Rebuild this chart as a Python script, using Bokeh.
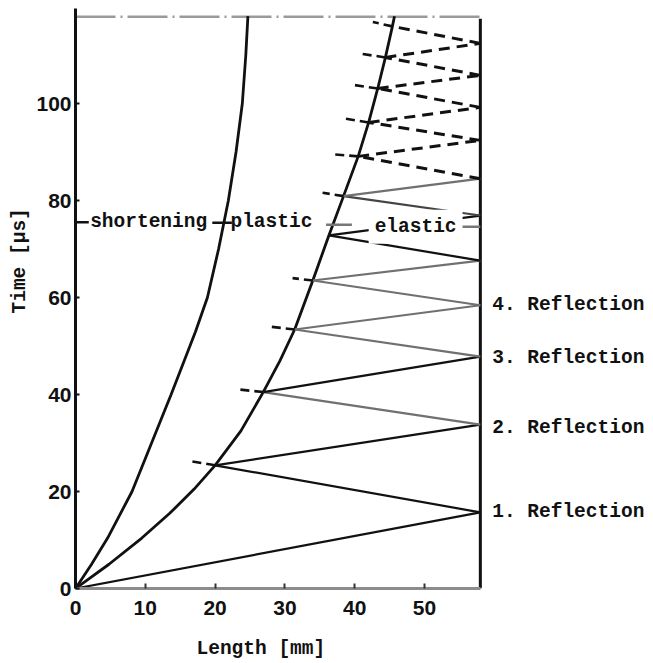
from bokeh.plotting import figure
from bokeh.models import Label, FixedTicker, ColumnDataSource, Range1d, Title
from bokeh.embed import file_html
from bokeh.resources import INLINE

# ---------------- data ----------------
rod_length = 58.0          # mm, position of the free end (wall)
top_time = 117.9           # us, dotted limit line

# left curve: end of shortening zone
shortening_x = [0, 2.3, 4.6, 8.1, 10.9, 13.7, 17.2, 18.9, 20.5, 21.9, 23.0, 23.9, 24.4, 24.7]
shortening_t = [0, 5.0, 10.4, 20.0, 30.0, 40.0, 53.0, 60.0, 70.0, 80.0, 90.0, 100.0, 110.0, 118.0]

# middle curve: plastic / elastic boundary
boundary_x = [0, 4.8, 9.5, 13.5, 17.0, 20.0, 23.7, 26.9, 29.3, 31.4, 34.0, 36.3, 38.4, 40.5, 42.0, 43.3, 44.4, 45.4, 45.7]
boundary_t = [0, 5.0, 10.4, 15.5, 20.5, 25.4, 32.5, 40.5, 47.0, 53.4, 63.5, 72.8, 80.9, 89.1, 96.1, 103.1, 109.5, 115.9, 118.0]

# elastic wave: reflections at the free end and hits on the boundary
wall_t = [15.7, 33.8, 47.8, 58.4, 67.6, 76.9, 84.5, 92.4, 99.2, 105.8, 112.4]
hit_x = [20.0, 26.9, 31.4, 34.0, 36.3, 38.4, 40.5, 42.0, 43.3, 44.4, 45.4]
hit_t = [25.4, 40.5, 53.4, 63.5, 72.8, 80.9, 89.1, 96.1, 103.1, 109.5, 115.9]

# dashed continuation of the incoming wave beyond each hit
ext_hit_index = [0, 1, 2, 3, 5, 6, 7, 8, 9, 10]
ext_x = [16.7, 23.6, 27.8, 31.1, 35.4, 37.1, 38.5, 39.5, 40.7, 42.6]
ext_t = [26.2, 41.0, 54.0, 64.0, 81.6, 89.5, 96.9, 103.9, 110.3, 116.8]

reflection_labels = ["1. Reflection", "2. Reflection", "3. Reflection", "4. Reflection"]
reflection_label_t = [15.7, 33.0, 47.6, 58.4]

zone_labels = ["shortening", "plastic", "elastic"]
zone_label_x = [2.1, 22.2, 42.0]
zone_label_t = [75.5, 75.5, 74.6]

x_ticks = [0, 10, 20, 30, 40, 50]
y_ticks = [0, 20, 40, 60, 80, 100]

x_title = "Length [mm]"
y_title = "Time [µs]"

# ---------------- styles ----------------
BLACK = "#111111"
GRAY = "#707070"
solid_colors = [BLACK, BLACK, BLACK, GRAY, BLACK, GRAY, GRAY, GRAY, GRAY, BLACK, BLACK, "#444444", GRAY]
n_solid = len(solid_colors)

MONO = "Liberation Mono"
SANS = "Liberation Sans"

# ---------------- figure ----------------
px_per_mm = 6.98
px_per_us = 4.85
W, H = 653, 663
left, right, top, bottom = 75, 5, 4, 75

p = figure(width=W, height=H, output_backend="svg", toolbar_location=None,
           x_range=Range1d(0, (W - left - right) / px_per_mm),
           y_range=Range1d(0, (H - top - bottom) / px_per_us),
           min_border_left=left, min_border_right=right,
           min_border_top=top, min_border_bottom=bottom)
p.outline_line_color = None
p.grid.visible = False
p.background_fill_color = "white"
p.border_fill_color = "white"

# axes
xa = p.xaxis[0]
xa.bounds = (0, rod_length)
xa.ticker = FixedTicker(ticks=x_ticks)
xa.minor_tick_line_color = None
xa.axis_line_color = "#8c8c8c"
xa.axis_line_width = 3
xa.major_tick_in = 5
xa.major_tick_out = 0
xa.major_tick_line_color = "#333333"
xa.major_tick_line_width = 2
xa.major_label_standoff = 12
xa.major_label_text_font = SANS
xa.major_label_text_font_style = "bold"
xa.major_label_text_font_size = "21px"
xa.major_label_text_color = BLACK
# blank spacer label to push the title further down
xa.axis_label = " "
xa.axis_label_text_font_size = "10px"
xa.axis_label_standoff = 4

ya = p.yaxis[0]
ya.bounds = (0, 119.5)
ya.ticker = FixedTicker(ticks=y_ticks)
ya.minor_tick_line_color = None
ya.axis_line_color = BLACK
ya.axis_line_width = 3
ya.major_tick_in = 4
ya.major_tick_out = 0
ya.major_tick_line_color = BLACK
ya.major_tick_line_width = 2
ya.major_label_standoff = 4
ya.major_label_text_font = SANS
ya.major_label_text_font_style = "bold"
ya.major_label_text_font_size = "21px"
ya.major_label_text_color = BLACK

# axis titles as offset titles (placed like the original, not centred)
p.add_layout(Title(text=x_title, align="left", offset=121, standoff=0, text_font=MONO,
                   text_font_style="bold", text_font_size="19.5px", text_color=BLACK),
             "below")
p.add_layout(Title(text=y_title, align="left", offset=275, standoff=6, text_font=MONO,
                   text_font_style="bold", text_font_size="19.5px", text_color=BLACK),
             "left")

# top dotted limit and the free-end wall
p.line([0, rod_length], [top_time, top_time], line_color="#9a9a9a", line_width=2.5,
       line_dash="40 5 2 5")
p.line([rod_length, rod_length], [0, 117.5], line_color=BLACK, line_width=3)

# curves
p.line(shortening_x, shortening_t, line_color=BLACK, line_width=2.8)
p.line(boundary_x, boundary_t, line_color=BLACK, line_width=2.8)

# zigzag path of the elastic wave
path_x, path_t = [0.0], [0.0]
for i in range(len(wall_t)):
    path_x += [rod_length, hit_x[i]]
    path_t += [wall_t[i], hit_t[i]]

seg = dict(x0=path_x[:-1], y0=path_t[:-1], x1=path_x[1:], y1=path_t[1:])
solid = ColumnDataSource({k: v[:n_solid] for k, v in seg.items()})
solid.data["c"] = solid_colors
dashed = ColumnDataSource({k: v[n_solid:] for k, v in seg.items()})
p.segment("x0", "y0", "x1", "y1", source=solid, line_color="c", line_width=2.2)
p.segment("x0", "y0", "x1", "y1", source=dashed, line_color=BLACK, line_width=3,
          line_dash="11 7")

# dashed extensions beyond the boundary hits
ext = ColumnDataSource(dict(x0=[hit_x[i] for i in ext_hit_index],
                            y0=[hit_t[i] for i in ext_hit_index],
                            x1=ext_x, y1=ext_t))
p.segment("x0", "y0", "x1", "y1", source=ext, line_color=BLACK, line_width=2.6,
          line_dash="9 5")

# zone labels
for txt, x, t in zip(zone_labels, zone_label_x, zone_label_t):
    lab = Label(x=x, y=t, text=txt, text_font=MONO, text_font_style="bold",
                text_font_size="19.5px", text_baseline="middle", text_align="left",
                text_color=BLACK)
    if txt == "elastic":
        lab.background_fill_color = "white"
        lab.background_fill_alpha = 1.0
        lab.padding = 6
    p.add_layout(lab)

# small boundary markers of the zones
mark_x0 = [0.0, 19.6, 35.9, 55.3]
mark_x1 = [1.9, 22.4, 39.6, 58.0]
mark_t = [75.5, 75.4, 75.0, 74.6]
p.segment(mark_x0, mark_t, mark_x1, mark_t,
          line_color=["#111111", "#111111", "#777777", "#777777"], line_width=2.5)

# reflection labels
for txt, t in zip(reflection_labels, reflection_label_t):
    p.add_layout(Label(x=59.7, y=t, text=txt, text_font=MONO, text_font_style="bold",
                       text_font_size="19.5px", text_baseline="middle", text_align="left",
                       text_color=BLACK))

open("out.html", "w").write(file_html(p, INLINE))
